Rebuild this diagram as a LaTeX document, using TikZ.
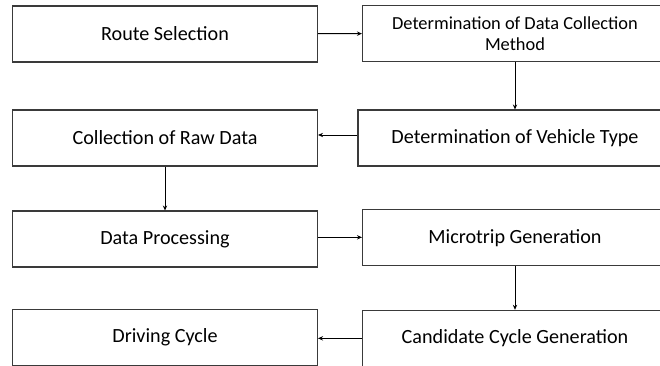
\documentclass[tikz,border=0pt]{standalone}
\usepackage{fontspec}
\setmainfont{Carlito}
\usetikzlibrary{calc,positioning,arrows.meta}
\definecolor{edge}{HTML}{3A3A3A}
\tikzset{
  stage/.style={draw=edge,line width=0.9pt,minimum height=1.68cm,minimum width=9.15cm,inner sep=0pt,
    font=\fontsize{17.2}{19.5}\selectfont,align=center},
  flow/.style={-{Stealth[length=1.5mm,width=1.3mm]},black,line width=0.8pt},
}
\begin{document}
\begin{tikzpicture}
\clip (0,0) rectangle (19.8,-10.98);
% left column
\node[stage] (route) at (4.95,-1.02) {Route Selection};
\node[stage] (raw) at (4.95,-4.14) {Collection of Raw Data};
\node[stage] (proc) at (4.95,-7.17) {Data Processing};
\node[stage] (cycle) at (4.95,-10.12) {Driving Cycle};
% right column
\node[stage,font=\fontsize{15.7}{17.8}\selectfont] (method) at (15.45,-1.0) {Determination of Data Collection\\Method};
\node[stage,minimum width=9.42cm] (vehicle) at (15.45,-4.14) {Determination of Vehicle Type};
\node[stage] (micro) at (15.45,-7.13) {Microtrip Generation};
\node[stage] (cand) at (15.45,-10.15) {Candidate Cycle Generation};
% connectors
\draw[flow] (route) -- (method);
\draw[flow] (method.south) -- (method.south |- vehicle.north);
\draw[flow] ([yshift=0.09cm]vehicle.west) -- ([yshift=0.09cm]raw.east);
\draw[flow] (raw) -- (proc);
\draw[flow] ([yshift=0.05cm]proc.east) -- ([yshift=0.05cm]proc.east -| micro.west);
\draw[flow] (micro) -- (cand);
\draw[flow] (cand.west) -- (cand.west -| cycle.east);
\end{tikzpicture}
\end{document}
